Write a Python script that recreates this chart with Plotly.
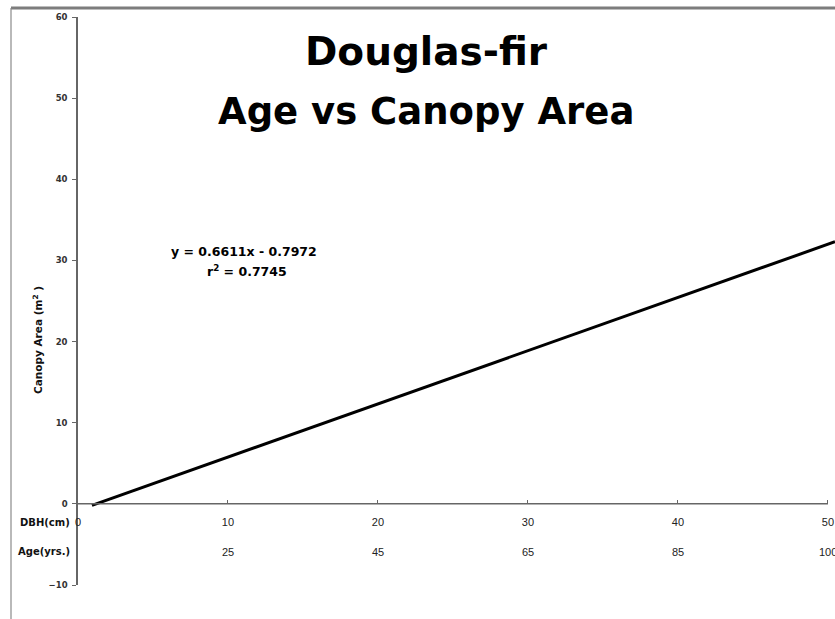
import plotly.graph_objects as go

# Data
fit_x = [0.93, 50.47]
fit_y = [-0.18, 32.3]

dbh_ticks = [0, 10, 20, 30, 40, 50]
dbh_labels = ["0", "10", "20", "30", "40", "50"]
age_pos = [10, 20, 30, 40, 50]
age_labels = ["25", "45", "65", "85", "100"]
y_ticks = [-10, 0, 10, 20, 30, 40, 50, 60]

title_line1 = "Douglas-fir"
title_line2 = "Age vs Canopy Area"
equation = "y = 0.6611x - 0.7972"
r_squared = "r<sup>2</sup> = 0.7745"

W, H = 835, 619
L, R, T, B = 78, 0, 17, 34
pw, ph = W - L - R, H - T - B


def px(x):
    return (x - L) / pw


def py(y):
    return (H - B - y) / ph


fig = go.Figure()
fig.add_trace(go.Scatter(x=fit_x, y=fit_y, mode="lines",
                         line=dict(color="black", width=3),
                         showlegend=False, hoverinfo="skip"))

fig.update_layout(
    width=W, height=H,
    margin=dict(l=L, r=R, t=T, b=B),
    paper_bgcolor="white", plot_bgcolor="white",
    showlegend=False,
    xaxis=dict(range=[0, 50.47], anchor="free", position=10 / 70,
               showgrid=False, zeroline=False, showline=False,
               tickvals=dbh_ticks, ticktext=dbh_labels,
               ticks="inside", ticklen=4, tickcolor="#666", tickwidth=1,
               ticklabelstandoff=10,
               tickfont=dict(family="Liberation Sans", size=11, color="#222")),
    yaxis=dict(range=[-10, 60], showgrid=False, zeroline=False,
               showline=True, linecolor="#666", linewidth=1.5,
               tickvals=y_ticks, ticks="outside", ticklen=4,
               tickcolor="#666", tickwidth=1, ticklabelstandoff=3,
               tickfont=dict(family="DejaVu Sans", size=8.5, color="#333",
                             weight="bold")),
)

# x axis line at y = 0 (from 0 to 50)
fig.add_shape(type="line", xref="x", yref="y", x0=dbh_ticks[0], x1=dbh_ticks[-1],
              y0=0, y1=0, line=dict(color="#666", width=1.5))

# frame lines
fig.add_shape(type="line", xref="paper", yref="paper", x0=px(11), x1=px(835),
              y0=py(8), y1=py(8), line=dict(color="#7d7d7d", width=3))
fig.add_shape(type="line", xref="paper", yref="paper", x0=px(11), x1=px(11),
              y0=py(8), y1=py(619), line=dict(color="#8a8a8a", width=1.2))

# Age row labels
for xv, lab in zip(age_pos, age_labels):
    fig.add_annotation(x=xv, y=-5.92, xref="x", yref="y", text=lab,
                       showarrow=False, xanchor="center", yanchor="middle",
                       font=dict(family="Liberation Sans", size=11, color="#222"))

# row headers
fig.add_annotation(x=px(72), y=-2.35, xref="paper", yref="y", text="DBH(cm)",
                   showarrow=False, xanchor="right", yanchor="middle",
                   font=dict(family="DejaVu Sans", size=10, color="#111", weight="bold"))
fig.add_annotation(x=px(72), y=-5.92, xref="paper", yref="y", text="Age(yrs.)",
                   showarrow=False, xanchor="right", yanchor="middle",
                   font=dict(family="DejaVu Sans", size=10, color="#111", weight="bold"))

# y axis title
fig.add_annotation(x=px(37), y=py(340), xref="paper", yref="paper",
                   text="Canopy Area (m<sup>2</sup> )", textangle=-90,
                   showarrow=False, xanchor="center", yanchor="middle",
                   font=dict(family="DejaVu Sans", size=10.5, color="#111", weight="bold"))

# titles
fig.add_annotation(x=px(426), y=py(51), xref="paper", yref="paper", text=title_line1,
                   showarrow=False, xanchor="center", yanchor="middle",
                   font=dict(family="DejaVu Sans", size=39, color="black", weight="bold"))
fig.add_annotation(x=px(426), y=py(111), xref="paper", yref="paper", text=title_line2,
                   showarrow=False, xanchor="center", yanchor="middle",
                   font=dict(family="DejaVu Sans", size=37, color="black", weight="bold"))

# equation
fig.add_annotation(x=px(244), y=py(252), xref="paper", yref="paper", text=equation,
                   showarrow=False, xanchor="center", yanchor="middle",
                   font=dict(family="DejaVu Sans", size=12.5, color="black", weight="bold"))
fig.add_annotation(x=px(247), y=py(271), xref="paper", yref="paper", text=r_squared,
                   showarrow=False, xanchor="center", yanchor="middle",
                   font=dict(family="DejaVu Sans", size=12.5, color="black", weight="bold"))

fig.write_html("out.html",
               config={"displayModeBar": False},
               post_script="document.body.style.margin='0';"
                           "document.body.style.overflow='hidden';")
